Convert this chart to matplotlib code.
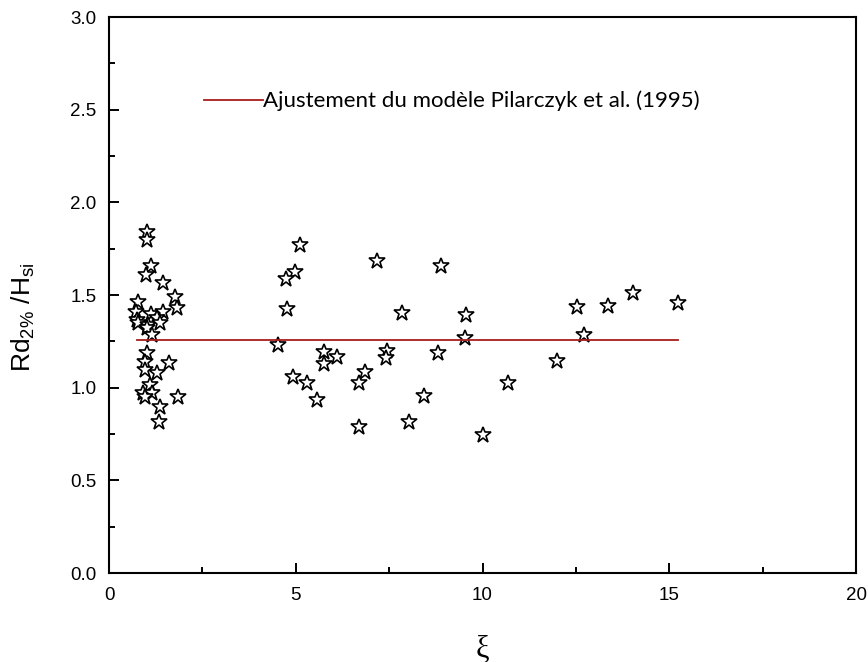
import matplotlib as mpl
mpl.use('Agg')
import matplotlib.pyplot as plt
import numpy as np

# measured points (xi, Rd2%/Hsi)
xi = [1.03, 1.03, 1.12, 0.99, 1.45, 1.77, 0.78, 1.81, 0.72, 1.12,
      1.44, 0.76, 1.28, 0.78, 1.05, 1.37, 1.03, 1.14, 1.03, 0.96,
      1.61, 0.96, 1.29, 1.10, 0.92, 1.14, 0.96, 1.84, 1.37, 1.34,
      5.10, 4.98, 4.74, 4.76, 4.53, 5.76, 6.11, 5.76, 4.93, 5.31,
      5.58, 6.85, 6.68, 6.68, 7.17, 7.45, 7.42, 7.84, 8.02, 8.42,
      8.82, 8.89, 9.56, 9.53, 10.02, 10.69,
      12.00, 12.72, 12.53, 13.35, 14.02, 15.23]
rd = [1.842, 1.797, 1.657, 1.608, 1.563, 1.488, 1.464, 1.429, 1.410, 1.396,
      1.410, 1.365, 1.375, 1.348, 1.338, 1.348, 1.321, 1.284, 1.186, 1.140,
      1.132, 1.096, 1.081, 1.015, 0.970, 0.970, 0.951, 0.948, 0.897, 0.813,
      1.770, 1.626, 1.585, 1.423, 1.230, 1.194, 1.167, 1.128, 1.056, 1.024,
      0.934, 1.086, 1.024, 0.790, 1.685, 1.200, 1.159, 1.401, 0.817, 0.955,
      1.186, 1.657, 1.391, 1.267, 0.745, 1.024,
      1.146, 1.284, 1.434, 1.441, 1.509, 1.455]

# Pilarczyk fit (constant)
fit_x = [0.74, 15.23]
fit_y = [1.257, 1.257]
fit_label = 'Ajustement du modèle Pilarczyk et al. (1995)'

plt.rcParams['font.family'] = ['Liberation Sans', 'DejaVu Sans']
plt.rcParams['mathtext.default'] = 'regular'

fig = plt.figure(figsize=(8.68, 6.62), dpi=100)
ax = fig.add_axes([0.1256, 0.1344, 0.8606, 0.8399])

ax.plot(xi, rd, linestyle='none', marker='*', markersize=12,
        markerfacecolor='white', markeredgecolor='black', markeredgewidth=1.2)
line, = ax.plot(fit_x, fit_y, color='#a81c1c', linewidth=1.3, label=fit_label)

ax.set_xlim(0, 20)
ax.set_ylim(0, 3.0)
ax.set_xticks(np.arange(0, 21, 5))
ax.set_xticks(np.arange(2.5, 20, 5), minor=True)
ax.set_yticks(np.arange(0, 3.01, 0.5))
ax.set_yticks(np.arange(0.25, 3.0, 0.5), minor=True)
ax.yaxis.set_major_formatter(mpl.ticker.FormatStrFormatter('%.1f'))
ax.xaxis.set_major_formatter(mpl.ticker.FormatStrFormatter('%d'))

ax.tick_params(which='both', direction='in', width=1.4, top=False, right=False)
ax.tick_params(which='major', length=7.2, labelsize=13.5)
ax.tick_params(axis='y', which='major', pad=9)
ax.tick_params(axis='x', which='major', pad=10)
ax.tick_params(which='minor', length=4.5)
for s in ax.spines.values():
    s.set_linewidth(1.5)

ax.set_ylabel('Rd$_{2\\%}$ /H$_{si}$', fontsize=19)
ax.yaxis.set_label_coords(-0.097, 0.46)
ax.set_xlabel('ξ', fontsize=22, family='Liberation Serif')
ax.xaxis.set_label_coords(0.5, -0.11)

leg = ax.legend(handles=[line], loc='center left', frameon=False,
                bbox_to_anchor=(204 / 868, 1 - 101 / 662),
                bbox_transform=fig.transFigure,
                handlelength=2.65, handletextpad=0.0, borderpad=0, borderaxespad=0,
                prop={'family': 'Lato', 'size': 16})

fig.savefig('out.png', dpi=100)
